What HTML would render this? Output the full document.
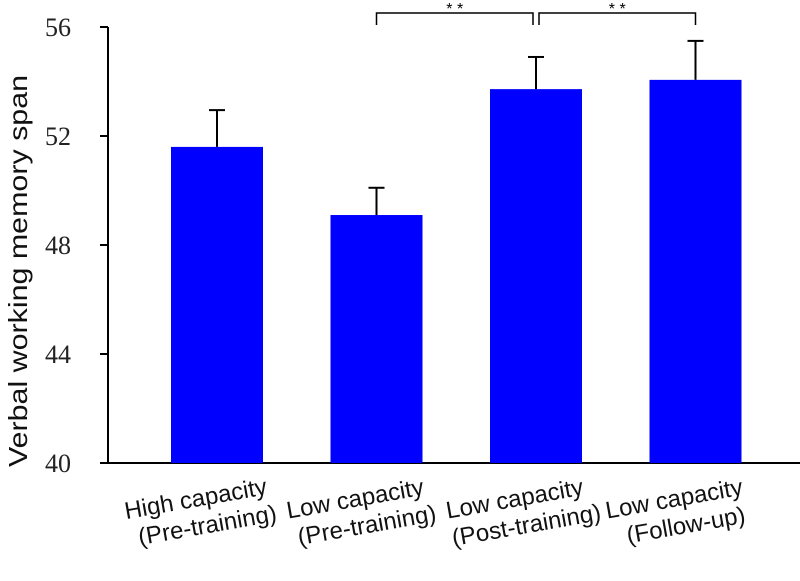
<!DOCTYPE html>
<html><head><meta charset="utf-8"><style>
body{margin:0;background:#fff;}
svg{display:block;}
</style></head><body>
<svg id="c" width="800" height="581">
<text transform="translate(27,271) rotate(-90)" text-anchor="middle" font-size="26" textLength="392" lengthAdjust="spacingAndGlyphs" fill="#111" style="font-family:'Liberation Sans',sans-serif">Verbal working memory span</text>
</svg>
<script>
const categories=[["High capacity","(Pre-training)"],["Low capacity","(Pre-training)"],["Low capacity","(Post-training)"],["Low capacity","(Follow-up)"]];
const values=[51.6,49.1,53.72,54.06];
const errors=[1.35,1.0,1.18,1.43];
const yTicks=[40,44,48,52,56];
const sigPairs=[[1,2],[2,3]];
const sigLabels=["* *","* *"];
const NS="http://www.w3.org/2000/svg";
const svg=document.getElementById('c');
const y=v=>463-(v-40)*27.25;
const xc=i=>217+i*159.5;
function mk(t,a,p){const e=document.createElementNS(NS,t);for(const k in a)e.setAttribute(k,a[k]);(p||svg).appendChild(e);return e;}
let ax=mk('line',{x1:108,y1:y(56),x2:108,y2:463,stroke:'#000','stroke-width':2});


let bx=mk('line',{x1:107,y1:463,x2:800,y2:463,stroke:'#000','stroke-width':2});


yTicks.forEach(t=>{
 let l=mk('line',{x1:100,y1:y(t),x2:108,y2:y(t),stroke:'#000','stroke-width':2});
 
 
 let tx=mk('text',{x:58,y:y(t)+9,'text-anchor':'middle','font-size':26,fill:'#222',style:"font-family:'Liberation Serif',serif"});
 tx.textContent=t;
 
 
});
values.forEach((v,i)=>{
 const cx=xc(i);
 let e=mk('line',{x1:cx,y1:y(v),x2:cx,y2:y(v+errors[i]),stroke:'#000','stroke-width':2});
 
 
 let cap=mk('line',{x1:cx-8,y1:y(v+errors[i]),x2:cx+8,y2:y(v+errors[i]),stroke:'#000','stroke-width':2});
 
 
 let r=mk('rect',{x:cx-46,y:y(v),width:92,height:463-y(v),fill:'#0000ff'});
 
 
 let g=mk('g',{transform:`translate(${cx-16},512) rotate(-10)`});
 categories[i].forEach((s,j)=>{
  let t=mk('text',{x:j*7-3,y:-6+j*28,'text-anchor':'middle','font-size':24,fill:'#111',style:"font-family:'Liberation Sans',sans-serif"},g);
  t.textContent=s;
  
  
 });
});
sigPairs.forEach((p,k)=>{
 const a=xc(p[0])+(k==1?3:0), b=xc(p[1])-(k==0?3:0);
 let br=mk('path',{d:`M${a},25 V13 H${b} V25`,fill:'none',stroke:'#000','stroke-width':1.5});
 
 
 let st=mk('text',{x:(a+b)/2,y:14,'text-anchor':'middle','font-size':16,fill:'#000',style:"font-family:'Liberation Sans',sans-serif"});
 st.textContent=sigLabels[k];
 
 
});
</script>
</body></html>
